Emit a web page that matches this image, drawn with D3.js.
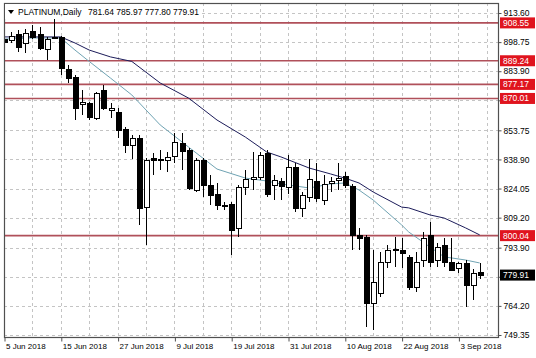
<!DOCTYPE html>
<html><head><meta charset="utf-8">
<script src="https://cdn.jsdelivr.net/npm/d3@7"></script>
<style>
html,body{margin:0;padding:0;background:#fff;}
svg{display:block;}
text{font-family:"Liberation Sans",Arial,sans-serif;}
</style>
</head><body>
<svg id="c" width="536" height="358"></svg>
<script>
// ---- DATA ----
const title = "PLATINUM,Daily";
const lastQuote = [781.64, 785.97, 777.80, 779.91];
const openP  = [900.3,899.8,902.9,898.3,904.4,902.9,895.2,900.9,901.4,885.0,880.95,867.2,867.7,860.0,874.3,864.1,863.1,854.4,846.3,849.8,814.7,839.6,838.6,838.6,840.7,847.3,843.7,823.3,838.6,825.9,821.3,815.7,816.2,803.9,824.9,829.0,830.0,842.2,825.9,827.9,824.9,835.1,814.2,819.8,827.9,818.2,826.9,828.4,830.5,825.4,800.4,799.4,765.7,770.8,786.6,792.7,792.7,789.2,773.9,787.6,800.4,787.6,795.3,786.6,783.6,786.1,774.9,781.64];
const highP  = [902.4,903.9,904.9,905.4,907.5,906.5,901.4,911.0,901.9,887.1,882.0,874.3,868.2,873.3,876.9,867.7,865.1,855.5,851.4,851.4,839.6,842.2,843.7,842.7,852.4,852.4,844.7,839.6,839.6,831.0,826.9,817.2,817.2,825.9,833.5,842.7,842.7,843.7,831.0,829.4,841.2,837.1,822.3,839.1,837.1,831.0,829.96,837.1,832.5,826.4,803.95,800.4,792.7,791.7,795.3,799.4,798.85,790.2,791.7,801.9,807.0,796.3,798.85,798.85,786.6,787.6,783.0,785.97];
const lowP   = [896.8,898.3,893.7,893.2,900.3,894.7,889.6,900.3,881.97,877.9,859.0,861.5,859.0,859.0,864.1,860.0,849.8,842.2,839.1,805.5,795.3,830.97,833.5,832.5,837.1,833.5,823.3,822.3,819.8,815.7,813.1,813.1,790.2,799.4,820.8,823.3,828.4,819.8,818.2,818.2,821.3,812.1,809.6,817.2,817.2,815.7,822.3,823.3,824.35,792.7,792.7,753.5,751.9,768.8,783.6,784.1,783.55,772.3,771.3,784.1,784.1,784.1,784.1,782.0,781.0,763.7,767.2,777.80];
const closeP = [898.8,901.9,896.3,903.4,901.4,895.7,900.3,901.4,885.5,880.4,865.1,868.2,860.5,872.8,865.1,865.1,853.9,846.3,849.8,814.2,838.6,838.6,838.9,840.2,847.8,843.2,824.35,838.6,825.9,820.8,815.7,815.2,802.9,824.9,828.9,830.0,841.2,821.3,828.4,825.4,835.1,814.2,820.8,828.9,819.3,826.4,827.9,829.45,825.9,800.4,798.85,765.7,776.4,786.6,792.7,793.2,791.2,773.9,786.6,798.85,786.6,794.3,786.6,782.5,786.1,774.9,781.0,779.91];

// moving averages (bar index, price)
const maSlowIdx = [0,4,8,10,12,15,18,22,26,30,34,37,39,43,46,48,50,52,56,57,60,62,65,67];
const maSlowVal = [901.4,901.4,901.4,898.3,894.7,891.2,888.9,877.9,870.2,859.0,850.3,842.7,840.2,834.5,831.5,829.4,826.9,822.3,814.6,814.2,810.6,809.0,804.0,800.4];
const maFastIdx = [0,4,8,10,12,15,18,22,26,30,34,37,39,43,46,48,50,52,56,57,60,62,65,67];
const maFastVal = [900.3,900.85,900.85,894.7,888.9,880.4,871.8,856.5,845.2,834.0,829.4,827.9,826.4,824.35,826.4,826.9,823.3,818.2,805.5,801.9,794.2,789.2,787.6,786.1];

const levels = [908.55, 889.24, 877.17, 870.01, 800.04];
const priceTicks = [913.60, 898.75, 883.90, 869.05, 853.75, 838.90, 824.05, 809.20, 793.90, 779.05, 764.20, 749.35];
const hiddenTicks = [869.05, 779.05]; // covered by the level / price boxes
const dateTickIdx = [0, 8, 16, 24, 32, 40, 48, 56, 64];
const dateTickLabels = ["5 Jun 2018","15 Jun 2018","27 Jun 2018","9 Jul 2018","19 Jul 2018","31 Jul 2018","10 Aug 2018","22 Aug 2018","3 Sep 2018"];
const gridIdx = d3.range(0, 69, 4);

// ---- LAYOUT ----
const L = 4, R = 498, T = 3, B = 337;
const svg = d3.select("#c");
const x = d3.scaleLinear().domain([0, 64]).range([4, 458.4]);
const y = d3.scaleLinear().domain([749.35, 913.60]).range([335, 13]);
const px = v => Math.round(x(v)) + 0.5;
const py = v => Math.round(y(v)) + 0.5;
const fmt = d3.format(".2f");

svg.append("defs").append("clipPath").attr("id","clip").append("rect")
  .attr("x", L).attr("y", T).attr("width", R - L).attr("height", B - T);

const plot = svg.append("g").attr("clip-path","url(#clip)");

// grid
plot.append("g").selectAll("line").data(priceTicks).join("line")
  .attr("x1", L).attr("x2", R).attr("y1", d => py(d)).attr("y2", d => py(d))
  .attr("stroke", "#c4c4c4").attr("stroke-dasharray", "3,3");
plot.append("g").selectAll("line").data(gridIdx).join("line")
  .attr("x1", d => px(d)).attr("x2", d => px(d)).attr("y1", T).attr("y2", B)
  .attr("stroke", "#c4c4c4").attr("stroke-dasharray", "3,3");

// level lines
plot.append("g").selectAll("line").data(levels).join("line")
  .attr("x1", L).attr("x2", R).attr("y1", d => y(d)).attr("y2", d => y(d))
  .attr("stroke", "#b0505a").attr("stroke-width", 1.6);

// moving averages
const lineGen = d3.line().x(d => x(d[0])).y(d => y(d[1]));
plot.append("path").datum(maFastIdx.map((d,i)=>[d, maFastVal[i]]))
  .attr("d", lineGen).attr("fill","none").attr("stroke","#6fa3b3").attr("stroke-width",1);
plot.append("path").datum(maSlowIdx.map((d,i)=>[d, maSlowVal[i]]))
  .attr("d", lineGen).attr("fill","none").attr("stroke","#1c1c5a").attr("stroke-width",1);

// candles
const bars = openP.map((o,i)=>({i, o, h: highP[i], l: lowP[i], c: closeP[i]}));
const cg = plot.append("g");
cg.selectAll("line").data(bars).join("line")
  .attr("x1", d => px(d.i)).attr("x2", d => px(d.i))
  .attr("y1", d => Math.round(y(d.h))).attr("y2", d => Math.round(y(d.l)))
  .attr("stroke", "#000");
cg.selectAll("rect").data(bars).join("rect")
  .attr("x", d => Math.round(x(d.i)) - 2 + 0.5)
  .attr("width", 5)
  .attr("y", d => Math.round(y(Math.max(d.o, d.c))) + 0.5)
  .attr("height", d => Math.max(1, Math.round(y(Math.min(d.o, d.c))) - Math.round(y(Math.max(d.o, d.c)))))
  .attr("fill", d => d.c >= d.o ? "#fff" : "#000")
  .attr("stroke", "#000");

// frame
svg.append("rect").attr("x", L + 0.5).attr("y", T + 0.5).attr("width", R - L).attr("height", B - T)
  .attr("fill", "none").attr("stroke", "#505050").attr("stroke-width", 1.2);

// right axis
const yAxis = d3.axisRight(y).tickValues(priceTicks)
  .tickFormat(d => hiddenTicks.includes(d) ? "" : fmt(d)).tickSize(3).tickPadding(2);
const ya = svg.append("g").attr("transform", `translate(${R + 0.5},0)`).call(yAxis);
ya.select(".domain").remove();
ya.selectAll("line").attr("stroke", "#505050");
ya.selectAll("text").attr("font-size", 8.5).attr("fill", "#000").attr("font-family", "Liberation Sans, Arial, sans-serif");

// bottom axis
const xAxis = d3.axisBottom(x).tickValues(dateTickIdx).tickFormat((d,i) => dateTickLabels[i]).tickSize(4).tickPadding(2);
const xa = svg.append("g").attr("transform", `translate(0.5,${B + 0.5})`).call(xAxis);
xa.select(".domain").remove();
xa.selectAll("line").attr("stroke", "#505050");
xa.selectAll("text").attr("text-anchor", "start").attr("dx", 1).attr("font-size", 8).attr("fill", "#000")
  .attr("font-family", "Liberation Sans, Arial, sans-serif");

// level labels
const lab = svg.append("g");
levels.forEach(v => {
  const g = lab.append("g").attr("transform", `translate(500,${y(v)})`);
  g.append("rect").attr("x", 0).attr("y", -5.5).attr("width", 35).attr("height", 11).attr("fill", "#e0141e");
  g.append("text").attr("x", 3).attr("y", 3).attr("font-size", 8.5).attr("fill", "#fff").text(fmt(v));
});
{
  const v = lastQuote[3];
  const g = lab.append("g").attr("transform", `translate(500,${y(v)})`);
  g.append("rect").attr("x", 0).attr("y", -5.5).attr("width", 35).attr("height", 11).attr("fill", "#000");
  g.append("text").attr("x", 3).attr("y", 3).attr("font-size", 8.5).attr("fill", "#fff").text(fmt(v));
}

// title
const tg = svg.append("g");
tg.append("rect").attr("x", 5).attr("y", 4).attr("width", 195).attr("height", 15).attr("fill", "#fff");
tg.append("path").attr("d", "M8,10 L14,10 L11,14 Z").attr("fill", "#000");
tg.append("text").attr("x", 18).attr("y", 15).attr("font-size", 8.5).attr("fill", "#000").text(title);
tg.append("text").attr("x", 88).attr("y", 15).attr("font-size", 8.5).attr("fill", "#000")
  .text(lastQuote.map(fmt).join(" "));
</script>
</body></html>
